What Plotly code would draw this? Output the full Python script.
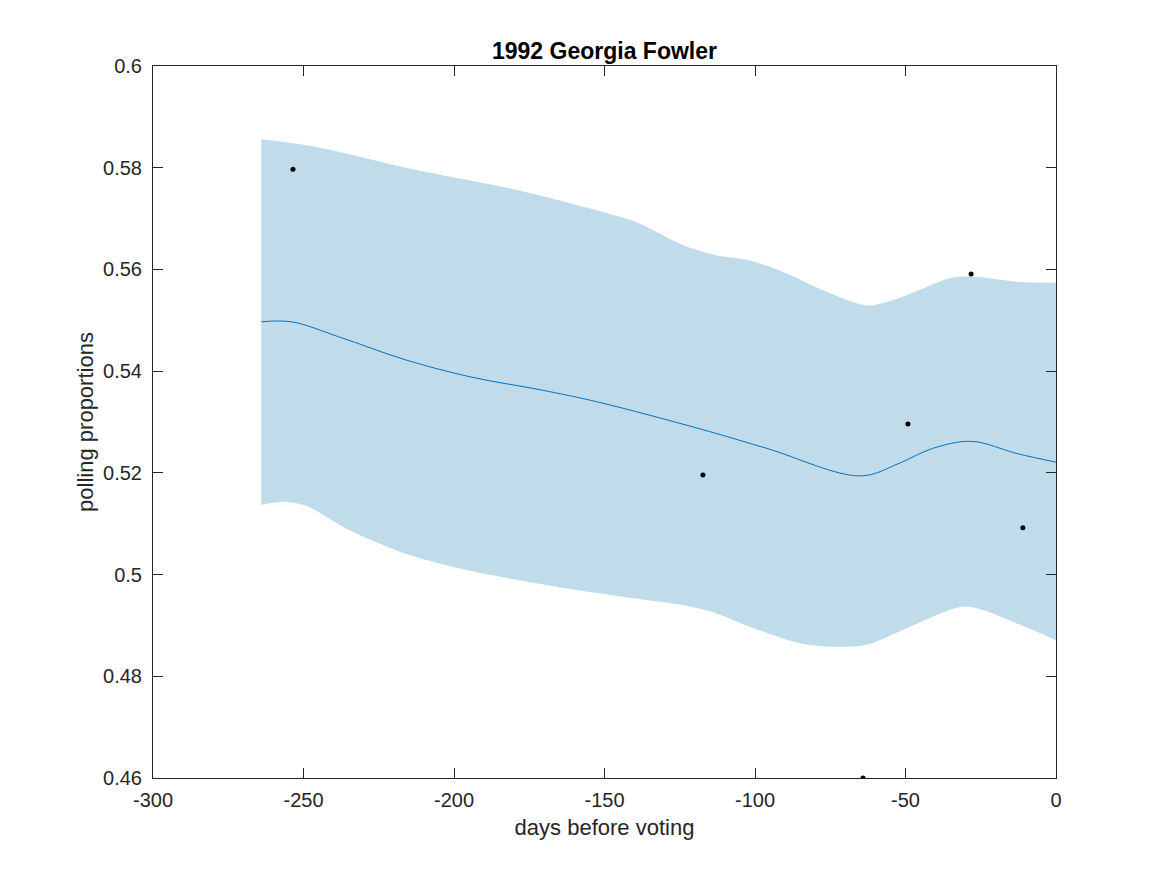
import plotly.graph_objects as go

# polls
poll_x = [-253.5, -117.3, -64.1, -49.2, -28.2, -11.0]
poll_y = [0.5797, 0.5196, 0.4600, 0.5296, 0.5591, 0.5092]

# posterior mean
mean_x = [-264, -254, -238, -216, -194, -171, -152, -118, -96, -65, -52, -41, -28, -13, 0]
mean_y = [0.5497, 0.5497, 0.5467, 0.5422, 0.5388, 0.5363, 0.5339, 0.5286, 0.5248,
          0.5194, 0.5219, 0.5248, 0.5262, 0.5238, 0.5221]

# upper band
upper_x = [-264, -250, -238, -216, -201, -179, -157, -140, -124, -113, -102, -91, -80,
           -68, -62, -52, -35, -28, -13, 0]
upper_y = [0.5856, 0.5845, 0.5831, 0.5800, 0.5782, 0.5756, 0.5723, 0.5694, 0.5648,
           0.5628, 0.5618, 0.5596, 0.5566, 0.5537, 0.5529, 0.5544, 0.5583, 0.5586,
           0.5576, 0.5574]

# lower band
lower_x = [-264, -257, -249, -235, -218, -201, -185, -163, -140, -124, -113, -102, -85,
           -74, -63, -46, -30, -13, 0]
lower_y = [0.5137, 0.5143, 0.5135, 0.5088, 0.5045, 0.5016, 0.4996, 0.4973, 0.4953,
           0.4940, 0.4924, 0.4898, 0.4865, 0.4858, 0.4862, 0.4904, 0.4937, 0.4904,
           0.4871]

x_ticks = [-300, -250, -200, -150, -100, -50, 0]
x_tick_text = ["-300", "-250", "-200", "-150", "-100", "-50", "0"]
y_ticks = [0.46, 0.48, 0.5, 0.52, 0.54, 0.56, 0.58, 0.6]
y_tick_text = ["0.46", "0.48", "0.5", "0.52", "0.54", "0.56", "0.58", "0.6"]

band_color = "rgb(192,220,234)"
line_color = "rgb(0,114,189)"

fig = go.Figure()
fig.add_trace(go.Scatter(x=lower_x, y=lower_y, mode="lines",
                         line=dict(width=0, shape="spline", smoothing=0.8, color=band_color),
                         showlegend=False, hoverinfo="skip"))
fig.add_trace(go.Scatter(x=upper_x, y=upper_y, mode="lines", fill="tonexty",
                         fillcolor=band_color,
                         line=dict(width=0, shape="spline", smoothing=0.8, color=band_color),
                         showlegend=False, hoverinfo="skip"))
fig.add_trace(go.Scatter(x=mean_x, y=mean_y, mode="lines",
                         line=dict(width=1, shape="spline", color=line_color),
                         showlegend=False))
fig.add_trace(go.Scatter(x=poll_x, y=poll_y, mode="markers",
                         marker=dict(size=5, color="black"),
                         showlegend=False))

font_family = "Liberation Sans, Arial, Helvetica, sans-serif"
axis_common = dict(
    showgrid=False, zeroline=False, showline=True, linecolor="#262626",
    linewidth=1, mirror="allticks", ticks="inside", ticklen=10,
    tickcolor="#262626", tickfont=dict(size=20, color="#262626", family=font_family),
)

fig.update_layout(
    width=1167, height=875,
    paper_bgcolor="white", plot_bgcolor="white",
    margin=dict(l=145, r=119, t=58, b=105),
    title=dict(text="<b>1992 Georgia Fowler</b>", x=0.5, xanchor="center",
               xref="paper", y=1, yref="paper", yanchor="bottom", pad=dict(b=7),
               font=dict(size=23, color="black", family=font_family)),
    xaxis=dict(range=[-300, 0], tickvals=x_ticks, ticktext=x_tick_text,
               ticklabelstandoff=4,
               title=dict(text="days before voting", standoff=9,
                          font=dict(size=22, color="#262626", family=font_family)),
               **axis_common),
    yaxis=dict(range=[0.46, 0.6], tickvals=y_ticks, ticktext=y_tick_text,
               ticklabelstandoff=6,
               title=dict(text="polling proportions", standoff=3,
                          font=dict(size=22, color="#262626", family=font_family)),
               **axis_common),
)

fig.write_html("out.html")
